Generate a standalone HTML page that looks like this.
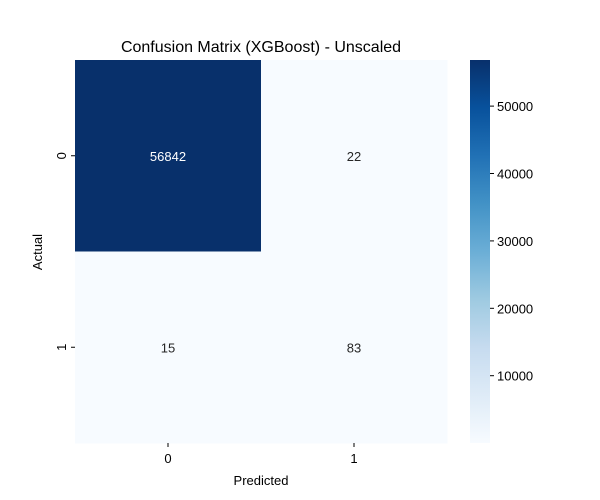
<!DOCTYPE html>
<html><head><meta charset="utf-8"><style>
body{margin:0;background:#fff;}
svg{display:block;font-family:"Liberation Sans","DejaVu Sans",sans-serif;}
</style></head><body>
<svg id="chart" width="600" height="500">
<text x="261" y="52" font-size="16" text-anchor="middle" fill="#000">Confusion Matrix (XGBoost) - Unscaled</text>
<text x="261" y="485" font-size="13" text-anchor="middle">Predicted</text>
<text x="42" y="252" font-size="13" text-anchor="middle" transform="rotate(-90 42 252)">Actual</text>
<g id="cells"></g><g id="cbar"></g>
</svg>
<script>
const xLabels=["0","1"];
const yLabels=["0","1"];
const values=[[56842,22],[15,83]];
const cbarTicks=[10000,20000,30000,40000,50000];
const stops=["#f7fbff","#deebf7","#c6dbef","#9ecae1","#6baed6","#4292c6","#2171b5","#08519c","#08306b"];
const X0=75,X1=447,Y0=60,Y1=443;
const flat=values.flat(),vmin=Math.min(...flat),vmax=Math.max(...flat);
function hex(c){return [1,3,5].map(i=>parseInt(c.substr(i,2),16));}
function color(v){let t=(v-vmin)/(vmax-vmin);t=Math.max(0,Math.min(1,t));const p=t*(stops.length-1);const i=Math.min(Math.floor(p),stops.length-2);const f=p-i;const a=hex(stops[i]),b=hex(stops[i+1]);return `rgb(${a.map((x,k)=>Math.round(x+(b[k]-x)*f)).join(',')})`;}
const ns="http://www.w3.org/2000/svg";
function mk(tag,attrs,parent,txt){const e=document.createElementNS(ns,tag);for(const k in attrs)e.setAttribute(k,attrs[k]);if(txt!==undefined)e.textContent=txt;parent.appendChild(e);return e;}
const cw=(X1-X0)/xLabels.length,ch=(Y1-Y0)/yLabels.length;
const cells=document.getElementById('cells');
values.forEach((row,r)=>row.forEach((v,c)=>{
 const rc=mk('rect',{x:X0+c*cw,y:Y0+r*ch,width:cw+0.5,height:ch+0.5,fill:color(v)},cells);
 
 
 const t=mk('text',{x:X0+(c+0.5)*cw,y:Y0+(r+0.5)*ch+5,'font-size':13,'text-anchor':'middle',fill:(v-vmin)/(vmax-vmin)>0.5?'#fff':'#262626'},cells,String(v));
 
 
}));
xLabels.forEach((l,i)=>{const x=X0+(i+0.5)*cw;
 mk('line',{x1:x,x2:x,y1:Y1,y2:Y1+4,stroke:'#000'},cells);
 const t=mk('text',{x:x,y:Y1+20,'font-size':13,'text-anchor':'middle'},cells,l);
 
 });
yLabels.forEach((l,i)=>{const y=Y0+(i+0.5)*ch;
 mk('line',{x1:X0-4,x2:X0,y1:y,y2:y,stroke:'#000'},cells);
 const t=mk('text',{x:66,y:y,'font-size':13,'text-anchor':'middle',transform:`rotate(-90 66 ${y})`},cells,l);
 
 });
const cb=document.getElementById('cbar');
const defs=mk('defs',{},cb);const g=mk('linearGradient',{id:'gr',x1:0,y1:1,x2:0,y2:0},defs);
stops.forEach((s,i)=>mk('stop',{offset:i/(stops.length-1),'stop-color':s},g));
const bar=mk('rect',{x:470,y:Y0,width:20,height:Y1-Y0,fill:'url(#gr)'},cb);


function cy(v){return Y1-(v-vmin)/(vmax-vmin)*(Y1-Y0);}
cbarTicks.forEach(v=>{const y=cy(v);
 mk('line',{x1:490,x2:494,y1:y,y2:y,stroke:'#000'},cb);
 const t=mk('text',{x:497,y:y+5,'font-size':13},cb,String(v));
 
 });
</script>
</body></html>
